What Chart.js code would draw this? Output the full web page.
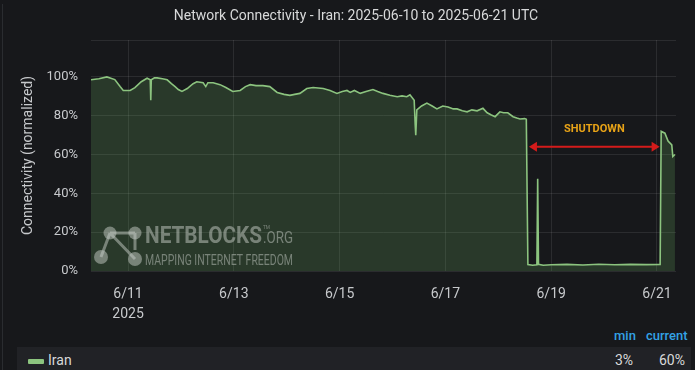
<!DOCTYPE html>
<html>
<head>
<meta charset="utf-8">
<script src="https://cdn.jsdelivr.net/npm/chart.js@4.4.1/dist/chart.umd.min.js"></script>
<style>
  html, body { margin: 0; padding: 0; background: #17181b; }
  #panel { position: relative; width: 695px; height: 370px; background: #17181b; overflow: hidden; font-family: Roboto, "Open Sans", sans-serif; }
  #edge { position: absolute; left: 2px; top: 4px; width: 1px; height: 366px; background: #2a2c30; }
  #wrap { position: absolute; left: 0; top: 0; width: 695px; height: 325px; }
  .hdr { position: absolute; top: 328px; color: #33a2e5; font-size: 13px; font-weight: 500; }
  #row { position: absolute; left: 17px; top: 347px; width: 674px; height: 23px; background: #212226; }
  #swatch { position: absolute; left: 11px; top: 12px; width: 16px; height: 5px; background: #8cc47f; border-radius: 1px; }
  #name { position: absolute; left: 31px; top: 5px; color: #d8d9da; font-size: 14px; }
  .val { position: absolute; top: 5px; color: #d8d9da; font-size: 14px; text-align: right; }
</style>
</head>
<body>
<div id="panel">
  <div id="edge"></div>
  <div id="wrap"><canvas id="myChart" width="695" height="325"></canvas></div>
  <div class="hdr" style="left:614px">min</div>
  <div class="hdr" style="left:646px">current</div>
  <div id="row">
    <div id="swatch"></div>
    <div id="name">Iran</div>
    <div class="val" style="right:58px">3%</div>
    <div class="val" style="right:6px">60%</div>
  </div>
</div>
<script>
// time in fractional June days (UTC), connectivity in %
const days = [
  10.30, 10.45, 10.60, 10.75, 10.85, 10.91, 11.04, 11.13, 11.25, 11.36,
  11.42, 11.43, 11.44, 11.50, 11.55, 11.65, 11.74, 11.82, 11.89, 11.95,
  12.02, 12.12, 12.23, 12.30, 12.42, 12.47, 12.51, 12.61, 12.74, 12.85,
  12.98, 13.12, 13.22, 13.31, 13.42, 13.55, 13.68, 13.82, 13.95, 14.06,
  14.15, 14.25, 14.38, 14.50, 14.69, 14.82, 14.95, 15.05, 15.14, 15.20,
  15.28, 15.39, 15.50, 15.63, 15.72, 15.82, 15.95, 16.09, 16.18, 16.27,
  16.33, 16.41, 16.43, 16.44, 16.46, 16.55, 16.65, 16.75, 16.84, 16.95,
  17.05, 17.15, 17.22, 17.32, 17.41, 17.50, 17.60, 17.71, 17.79, 17.86,
  17.94, 18.03, 18.10, 18.18, 18.28, 18.35, 18.41, 18.50, 18.53, 18.56,
  18.65, 18.73, 18.745, 18.76, 18.85, 19.00, 19.30, 19.60, 19.90, 20.20,
  20.50, 20.80, 21.06, 21.08, 21.15, 21.21, 21.28, 21.30, 21.34
];
const iran = [
  98.5, 99, 100, 98.6, 95, 93, 93, 94.5, 97.5, 99.3,
  98.5, 88, 98.5, 99.5, 99.5, 99, 98.5, 96.5, 95, 93.5,
  92.5, 94, 96.5, 97.5, 97, 95, 97, 97, 96, 94.5,
  92.5, 93, 95, 96, 95.5, 95.5, 95, 92, 91, 90.5,
  91, 91.5, 94, 94.5, 94, 93, 91.5, 92.5, 93, 92,
  93, 91.5, 92.5, 93.5, 92.5, 91.5, 90.5, 89.8, 90.2, 89.8,
  90.8, 88, 75, 70, 83, 85, 86.5, 85, 83.5, 85,
  84.5, 83.5, 83.5, 82.5, 82, 83, 82.5, 83.8, 81.5, 80.5,
  79.5, 82, 81.5, 81.5, 79.5, 78.8, 78.3, 78.5, 78.2, 3.3,
  3.0, 3.2, 47.5, 3.4, 3.0, 3.2, 3.4, 3.1, 3.5, 3.2,
  3.4, 3.3, 3.4, 72, 71, 67, 65, 59, 60
];
const xTicks = [11, 13, 15, 17, 19, 21];
const yTicks = [0, 20, 40, 60, 80, 100, 119];
const shutdown = { from: 18.58, to: 21.05, arrowAt: 64, labelAt: 73, label: 'SHUTDOWN' };

const points = days.map((d, i) => ({ x: d, y: iran[i] }));

const extras = {
  id: 'extras',
  beforeDraw(chart) {
    const c = chart.ctx;
    c.save();
    c.fillStyle = '#d8d9da';
    c.font = '14px Roboto';
    c.textAlign = 'center';
    c.textBaseline = 'middle';
    c.fillText('Network Connectivity - Iran: 2025-06-10 to 2025-06-21 UTC', 356, 16);
    c.restore();
  },
  afterDatasetsDraw(chart) {
    const c = chart.ctx;
    const xs = chart.scales.x, ys = chart.scales.y;
    const a = chart.chartArea;
    // watermark
    c.save();
    const wm = 'rgba(200,206,200,0.5)';
    c.fillStyle = wm;
    c.strokeStyle = wm;
    const L = a.left, B = a.bottom;
    const nodes = [[L + 19, B - 38, 6.5], [L + 44, B - 38, 6.5], [L + 10, B - 14, 7], [L + 44, B - 12, 7]];
    c.lineWidth = 3;
    c.beginPath();
    c.moveTo(nodes[0][0], nodes[0][1]); c.lineTo(nodes[1][0], nodes[1][1]);
    c.moveTo(nodes[0][0], nodes[0][1]); c.lineTo(nodes[2][0], nodes[2][1]);
    c.moveTo(nodes[0][0], nodes[0][1]); c.lineTo(nodes[3][0], nodes[3][1]);
    c.moveTo(nodes[1][0], nodes[1][1]); c.lineTo(nodes[1][0], nodes[1][1] + 17);
    c.stroke();
    nodes.forEach(n => { c.beginPath(); c.arc(n[0], n[1], n[2], 0, Math.PI * 2); c.fill(); });
    const fitText = (txt, font, x, y, w) => {
      c.font = font;
      const m = c.measureText(txt).width;
      c.save();
      c.translate(x, y);
      c.scale(w / m, 1);
      c.textAlign = 'left';
      c.textBaseline = 'alphabetic';
      c.fillText(txt, 0, 0);
      c.restore();
    };
    fitText('NETBLOCKS', 'bold 24px Roboto', L + 54, B - 28, 117);
    fitText('.ORG', '17px Roboto', L + 172, B - 28, 30);
    fitText('TM', '5px Roboto', L + 172, B - 42, 7);
    fitText('MAPPING INTERNET FREEDOM', '15px Roboto', L + 54, B - 6, 148);
    c.restore();

    // shutdown annotation
    c.save();
    const x1 = xs.getPixelForValue(shutdown.from), x2 = xs.getPixelForValue(shutdown.to);
    const ya = ys.getPixelForValue(shutdown.arrowAt);
    c.strokeStyle = '#d41b1b';
    c.fillStyle = '#d41b1b';
    c.lineWidth = 2;
    c.beginPath(); c.moveTo(x1 + 4, ya); c.lineTo(x2 - 4, ya); c.stroke();
    c.beginPath(); c.moveTo(x1, ya); c.lineTo(x1 + 8, ya - 5); c.lineTo(x1 + 8, ya + 5); c.closePath(); c.fill();
    c.beginPath(); c.moveTo(x2, ya); c.lineTo(x2 - 8, ya - 5); c.lineTo(x2 - 8, ya + 5); c.closePath(); c.fill();
    c.fillStyle = '#e8a317';
    c.font = 'bold 11px Roboto';
    c.textAlign = 'center';
    c.textBaseline = 'middle';
    c.fillText(shutdown.label, (x1 + x2) / 2, ys.getPixelForValue(shutdown.labelAt));
    c.restore();
  }
};

new Chart(document.getElementById('myChart'), {
  type: 'line',
  data: {
    datasets: [{
      data: points,
      borderColor: '#8cc47f',
      backgroundColor: 'rgba(115,191,105,0.2)',
      borderWidth: 1.6,
      fill: 'origin',
      pointRadius: 0,
      tension: 0
    }]
  },
  options: {
    responsive: false,
    animation: false,
    layout: { padding: { left: 0, right: 19, top: 40, bottom: 0 } },
    plugins: { legend: { display: false }, tooltip: { enabled: false } },
    scales: {
      x: {
        type: 'linear',
        min: 10.30,
        max: 21.36,
        afterBuildTicks: s => { s.ticks = xTicks.map(v => ({ value: v })); },
        afterFit: s => { s.height = 54; },
        grid: { color: 'rgba(255,255,255,0.09)', drawTicks: false },
        border: { display: false },
        ticks: {
          padding: 14,
          color: '#c7c9cc',
          font: { family: 'Roboto', size: 14, lineHeight: 1.4 },
          maxRotation: 0,
          callback: v => v === 11 ? ['6/11', '2025'] : '6/' + v
        }
      },
      y: {
        min: 0,
        max: 119,
        afterBuildTicks: s => { s.ticks = yTicks.map(v => ({ value: v })); },
        afterFit: s => { s.width = 91; },
        grid: { color: 'rgba(255,255,255,0.09)', drawTicks: false },
        border: { display: false },
        title: {
          display: true,
          text: 'Connectivity (normalized)',
          color: '#c7c9cc',
          font: { family: 'Roboto', size: 14 },
          padding: { top: 20, bottom: 0 }
        },
        ticks: {
          padding: 13,
          color: '#c7c9cc',
          font: { family: 'Roboto', size: 13 },
          callback: v => v <= 100 ? v + '%' : ''
        }
      }
    }
  },
  plugins: [extras]
});
</script>
</body>
</html>
